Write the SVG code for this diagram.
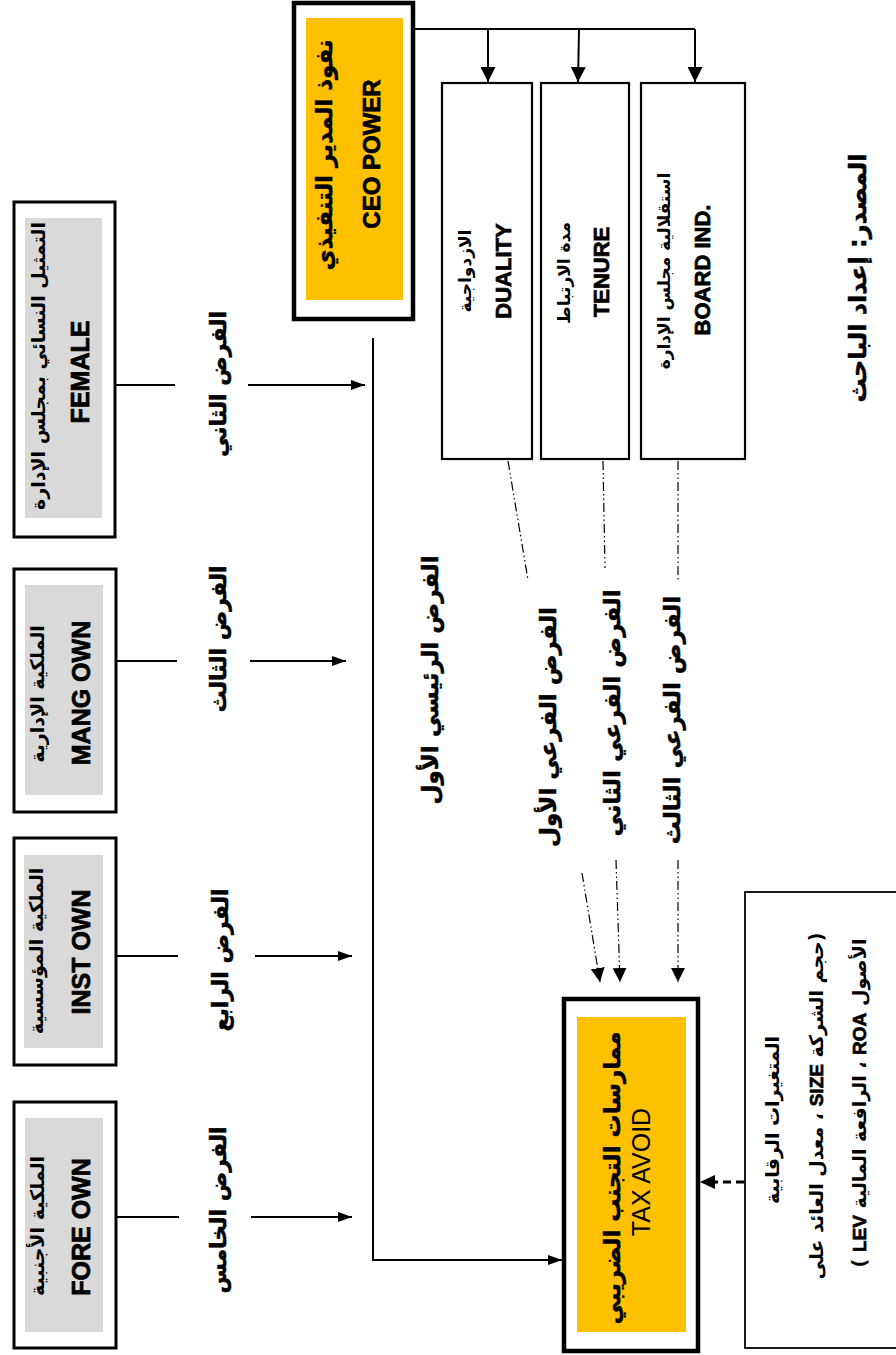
<svg xmlns="http://www.w3.org/2000/svg" width="896" height="1355" viewBox="0 0 896 1355">
<defs>
<style>
.ar{font-family:"DejaVu Sans","Noto Sans",sans-serif;font-weight:bold;fill:#000}
.hv{stroke:#000;stroke-width:0.5}
.en{font-family:"Liberation Sans",Arial,sans-serif;font-weight:700;fill:#000;stroke:#000;stroke-width:0.7}
.enr{font-family:"Liberation Sans",Arial,sans-serif;font-weight:normal;fill:#000}
.outer{fill:#fff;stroke:#000;stroke-width:3}
.thick{fill:#fff;stroke:#000;stroke-width:4.5}
.gray{fill:#d9d9d9}
.yel{fill:#ffc000}
.thin{fill:#fff;stroke:#000;stroke-width:2.2}
.ln{stroke:#000;stroke-width:2;fill:none}
.dd{stroke:#000;stroke-width:1.2;fill:none;stroke-dasharray:9 3 1.5 3 1.5 3}
</style>
<marker id="ah" markerWidth="15" markerHeight="15" refX="15" refY="7.5" orient="auto" markerUnits="userSpaceOnUse"><path d="M0,0 L15,7.5 L0,15 z" fill="#000"/></marker>
<marker id="ahs" markerWidth="14" markerHeight="10" refX="14" refY="5" orient="auto" markerUnits="userSpaceOnUse"><path d="M0,0 L14,5 L0,10 z" fill="#000"/></marker>
<marker id="ahd" markerWidth="14" markerHeight="14" refX="14" refY="7" orient="auto" markerUnits="userSpaceOnUse"><path d="M0,0 L14,7 L0,14 z" fill="#000"/></marker>
</defs>

<g id="connectors">
  <polyline class="ln" points="415,29 695,29" stroke-width="1.5"/>
  <line class="ln" x1="488" y1="29" x2="488" y2="82" stroke-width="1.5" marker-end="url(#ah)"/>
  <line class="ln" x1="579" y1="29" x2="578" y2="82" stroke-width="1.5" marker-end="url(#ah)"/>
  <line class="ln" x1="695" y1="29" x2="695" y2="82" stroke-width="1.5" marker-end="url(#ah)"/>
  <line class="ln" x1="115" y1="385" x2="175" y2="385"/>
  <line class="ln" x1="248" y1="385" x2="365" y2="385" marker-end="url(#ahs)"/>
  <line class="ln" x1="99" y1="661" x2="177" y2="661"/>
  <line class="ln" x1="250" y1="661" x2="346" y2="661" marker-end="url(#ahs)"/>
  <line class="ln" x1="103" y1="956" x2="178" y2="956"/>
  <line class="ln" x1="255" y1="956" x2="352" y2="956" marker-end="url(#ahs)"/>
  <line class="ln" x1="117" y1="1217" x2="179" y2="1217"/>
  <line class="ln" x1="251" y1="1217" x2="352" y2="1217" marker-end="url(#ahs)"/>
  <polyline class="ln" stroke-width="3" points="373,338 373,1260 548,1260"/>
  <line class="ln" x1="545" y1="1260" x2="562" y2="1260" marker-end="url(#ahs)"/>
  <line class="dd" x1="508" y1="461" x2="528" y2="580"/>
  <line class="dd" x1="603" y1="461" x2="605" y2="568"/>
  <line class="dd" x1="678" y1="461" x2="678" y2="580"/>
  <line class="dd" x1="582" y1="873" x2="600" y2="982" marker-end="url(#ahd)"/>
  <line class="dd" x1="616" y1="860" x2="620" y2="982" marker-end="url(#ahd)"/>
  <line class="dd" x1="678" y1="860" x2="678" y2="982" marker-end="url(#ahd)"/>
  <line x1="744" y1="1182" x2="714" y2="1182" stroke="#000" stroke-width="3" stroke-dasharray="8 5"/>
  <path d="M700,1182 L715,1175 L715,1189 z" fill="#000"/>
</g>

<g id="ceo">
  <rect class="thick" x="294" y="3" width="119" height="316"/>
  <rect class="yel" x="306" y="18" width="97" height="282"/>
  <text class="ar hv" font-size="23" x="324" y="155" transform="rotate(-90 324 155)" text-anchor="middle" dominant-baseline="central">نفوذ المدير التنفيذي</text>
  <text class="en" font-size="24" x="371" y="154" transform="rotate(-90 371 154)" text-anchor="middle" dominant-baseline="central">CEO POWER</text>
</g>

<g id="duality">
  <rect class="thin" x="442" y="83" width="90" height="376"/>
  <text class="ar" font-size="17" x="465" y="271" transform="rotate(-90 465 271)" text-anchor="middle" dominant-baseline="central">الازدواجية</text>
  <text class="en" font-size="22" x="503" y="271" transform="rotate(-90 503 271)" text-anchor="middle" dominant-baseline="central">DUALITY</text>
</g>

<g id="tenure">
  <rect class="thin" x="541" y="83" width="88" height="376"/>
  <text class="ar" font-size="17" x="564" y="273" transform="rotate(-90 564 273)" text-anchor="middle" dominant-baseline="central">مدة الارتباط</text>
  <text class="en" font-size="22" x="601" y="272" transform="rotate(-90 601 272)" text-anchor="middle" dominant-baseline="central">TENURE</text>
</g>

<g id="boardind">
  <rect class="thin" x="641" y="83" width="104" height="376"/>
  <text class="ar" font-size="17" x="664" y="271" transform="rotate(-90 664 271)" text-anchor="middle" dominant-baseline="central">استقلالية مجلس الإدارة</text>
  <text class="en" font-size="22" x="702" y="270" transform="rotate(-90 702 270)" text-anchor="middle" dominant-baseline="central">BOARD IND.</text>
</g>

<g id="female">
  <rect class="outer" x="14" y="202" width="101" height="335"/>
  <rect class="gray" x="25" y="218" width="77" height="300"/>
  <text class="ar" font-size="19" x="38" y="366" transform="rotate(-90 38 366)" text-anchor="middle" dominant-baseline="central">التمثيل النسائي بمجلس الإدارة</text>
  <text class="en" font-size="25" x="80" y="372" transform="rotate(-90 80 372)" text-anchor="middle" dominant-baseline="central">FEMALE</text>
</g>

<g id="mangown">
  <rect class="outer" x="14" y="569" width="102" height="243"/>
  <rect class="gray" x="25" y="585" width="78" height="210"/>
  <text class="ar" font-size="19" x="37" y="694" transform="rotate(-90 37 694)" text-anchor="middle" dominant-baseline="central">الملكية الإدارية</text>
  <text class="en" font-size="25" x="81" y="693" transform="rotate(-90 81 693)" text-anchor="middle" dominant-baseline="central">MANG OWN</text>
</g>

<g id="instown">
  <rect class="outer" x="14" y="838" width="102" height="227"/>
  <rect class="gray" x="24" y="855" width="79" height="193"/>
  <text class="ar" font-size="19" x="36" y="951" transform="rotate(-90 36 951)" text-anchor="middle" dominant-baseline="central">الملكية المؤسسية</text>
  <text class="en" font-size="25" x="81" y="952" transform="rotate(-90 81 952)" text-anchor="middle" dominant-baseline="central">INST OWN</text>
</g>

<g id="foreown">
  <rect class="outer" x="14" y="1102" width="102" height="246"/>
  <rect class="gray" x="25" y="1118" width="78" height="214"/>
  <text class="ar" font-size="19" x="37" y="1226" transform="rotate(-90 37 1226)" text-anchor="middle" dominant-baseline="central">الملكية الأجنبية</text>
  <text class="en" font-size="25" x="81" y="1227" transform="rotate(-90 81 1227)" text-anchor="middle" dominant-baseline="central">FORE OWN</text>
</g>

<g id="hyp-labels">
  <text class="ar hv" font-size="22" x="218" y="384" transform="rotate(-90 218 384)" text-anchor="middle" dominant-baseline="central">الفرض الثاني</text>
  <text class="ar hv" font-size="22" x="218" y="639" transform="rotate(-90 218 639)" text-anchor="middle" dominant-baseline="central">الفرض الثالث</text>
  <text class="ar hv" font-size="22" x="220" y="960" transform="rotate(-90 220 960)" text-anchor="middle" dominant-baseline="central">الفرض الرابع</text>
  <text class="ar hv" font-size="22" x="218" y="1210" transform="rotate(-90 218 1210)" text-anchor="middle" dominant-baseline="central">الفرض الخامس</text>
  <text class="ar hv" font-size="23" x="430" y="680" transform="rotate(-90 430 680)" text-anchor="middle" dominant-baseline="central">الفرض الرئيسي الأول</text>
  <text class="ar hv" font-size="23" x="548" y="727" transform="rotate(-90 548 727)" text-anchor="middle" dominant-baseline="central">الفرض الفرعي الأول</text>
  <text class="ar hv" font-size="23" x="612" y="713" transform="rotate(-90 612 713)" text-anchor="middle" dominant-baseline="central">الفرض الفرعي الثاني</text>
  <text class="ar hv" font-size="23" x="672" y="720" transform="rotate(-90 672 720)" text-anchor="middle" dominant-baseline="central">الفرض الفرعي الثالث</text>
</g>

<g id="taxavoid">
  <rect class="thick" x="564" y="999" width="134" height="352"/>
  <rect class="yel" x="577" y="1017" width="109" height="315"/>
  <text class="ar hv" font-size="23" x="612" y="1178" transform="rotate(-90 612 1178)" text-anchor="middle" dominant-baseline="central">ممارسات التجنب الضريبي</text>
  <text class="enr" font-size="25" x="641" y="1172" transform="rotate(-90 641 1172)" text-anchor="middle" dominant-baseline="central">TAX AVOID</text>
</g>

<g id="controls">
  <rect x="745" y="892" width="170" height="456" fill="#fff" stroke="#000" stroke-width="1.8"/>
  <text class="ar" font-size="19" x="772" y="1120" transform="rotate(-90 772 1120)" text-anchor="middle" dominant-baseline="central">المتغيرات الرقابية</text>
  <text class="ar" font-size="19" x="816" y="1106" transform="rotate(-90 816 1106)" text-anchor="middle" dominant-baseline="central" direction="rtl">(حجم الشركة <tspan class="en">SIZE</tspan> ، معدل العائد على</text>
  <text class="ar" font-size="19" x="859" y="1103" transform="rotate(-90 859 1103)" text-anchor="middle" dominant-baseline="central" direction="rtl">الأصول <tspan class="en">ROA</tspan> ، الرافعة المالية <tspan class="en">LEV</tspan> )</text>
</g>

<g id="source">
  <text class="ar hv" font-size="24" x="858" y="278" transform="rotate(-90 858 278)" text-anchor="middle" dominant-baseline="central">المصدر: إعداد الباحث</text>
</g>
</svg>
